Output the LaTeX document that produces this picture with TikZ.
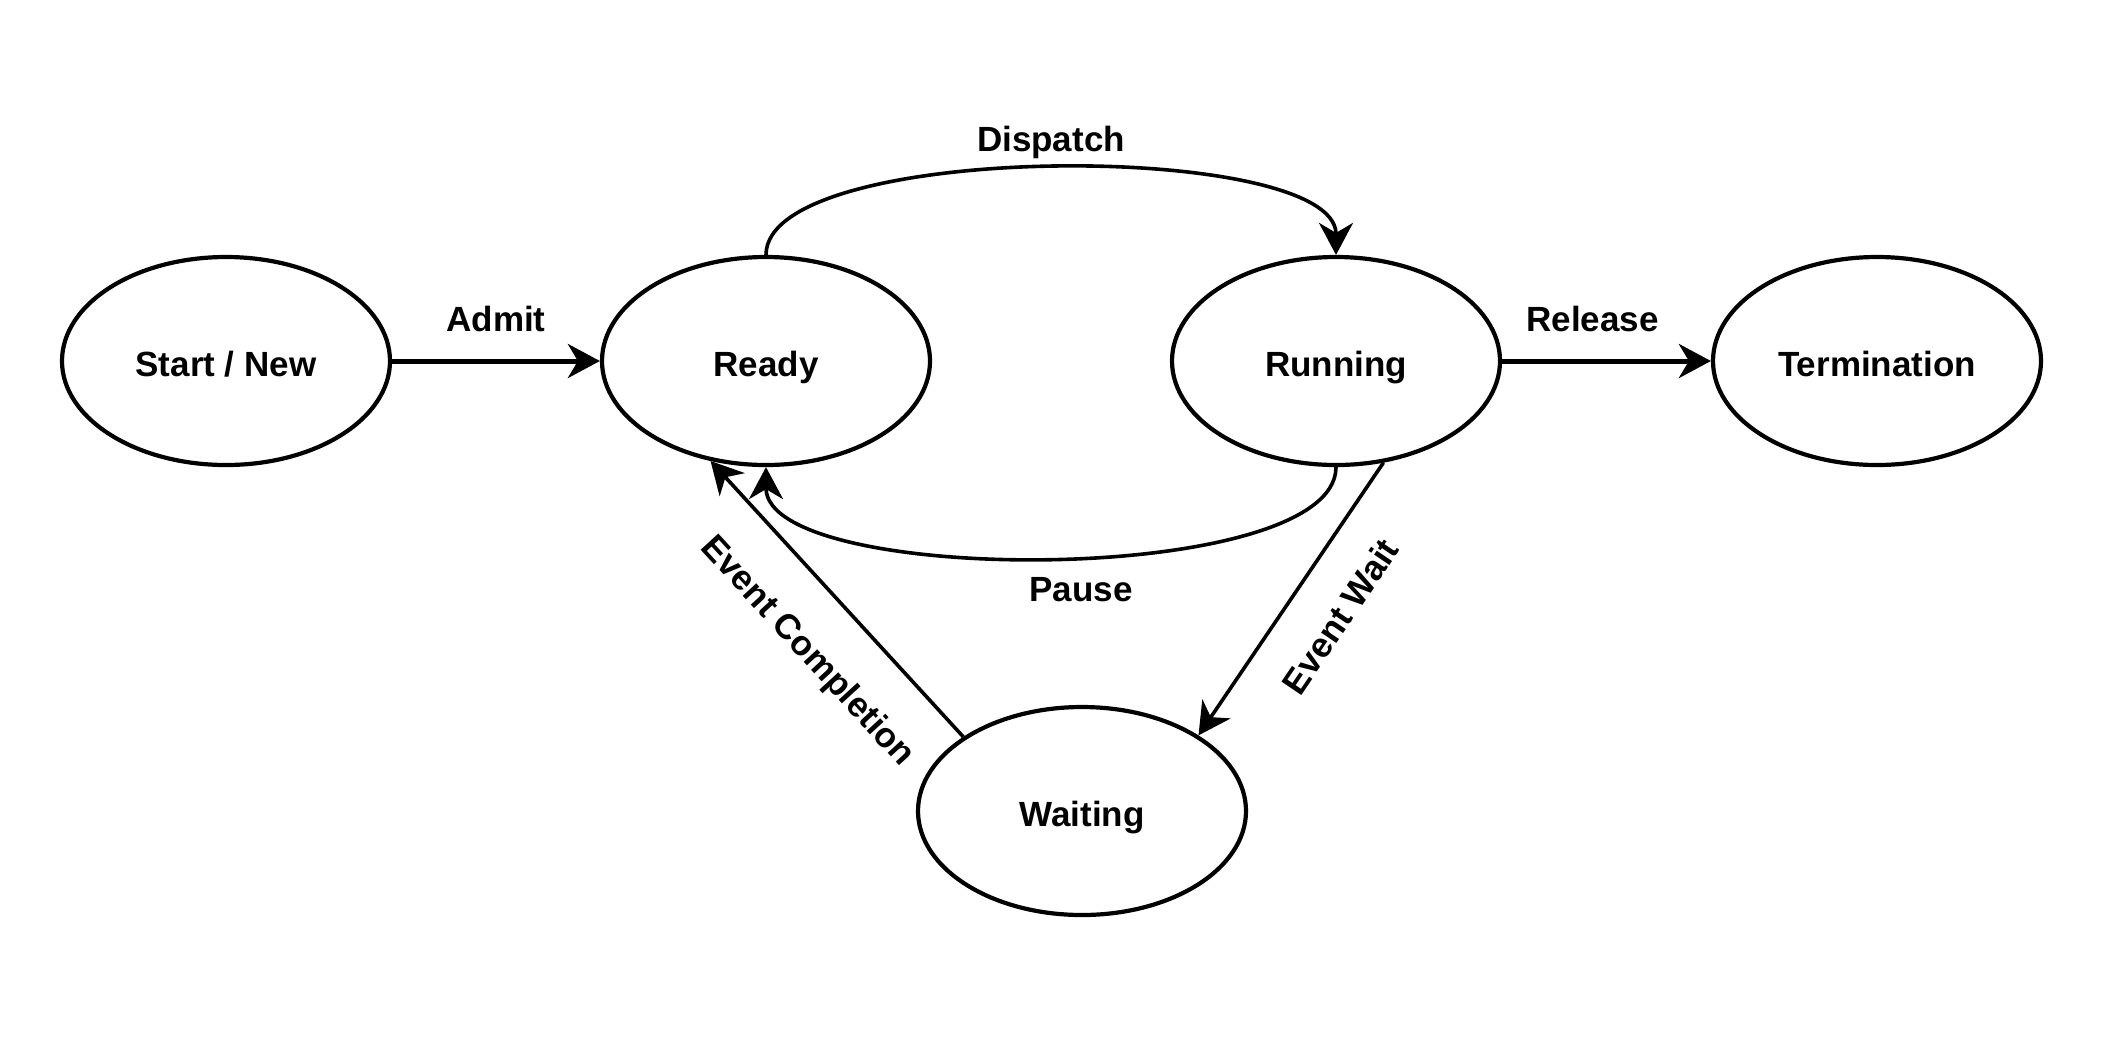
\documentclass[tikz,border=0pt]{standalone}
\usepackage{fontspec}
\setmainfont{Liberation Sans}
\usetikzlibrary{arrows.meta,shapes.geometric}
\begin{document}
\begin{tikzpicture}[x=0.5pt,y=-0.5pt,
  state/.style={draw, line width=2.1pt, ellipse, minimum width=164pt, minimum height=104pt, inner sep=0pt, text height=15.5pt, text depth=0pt, font=\fontsize{17.5}{21}\selectfont\bfseries},
  conn/.style={line width=1.8pt, -{Stealth[length=16pt,width=17pt,inset=5pt]}},
  thickconn/.style={conn, line width=2.5pt},
  lbl/.style={font=\fontsize{17.5}{21}\selectfont\bfseries, inner sep=0pt}]
\fill[white] (0,0) rectangle (2114,1040);
\useasboundingbox (0,0) rectangle (2114,1040);
\node[state] (start) at (226,361) {Start / New};
\node[state] (ready) at (766,361) {Ready};
\node[state] (running) at (1336,361) {Running};
\node[state] (term) at (1877,361) {Termination};
\node[state] (waiting) at (1082,811) {Waiting};
\draw[thickconn] (start) -- node[lbl, above=13.5pt] {Admit} (ready);
\draw[thickconn] (running) -- node[lbl, above=13.5pt, xshift=-7pt] {Release} (term);
\draw[conn] (ready.north) .. controls +(0,-115) and +(0,-115) .. node[lbl, above=3.8pt] {Dispatch} (running.north);
\draw[conn] (running.south) .. controls +(0,120) and +(0,120) .. node[lbl, below=9.5pt, xshift=15pt] {Pause} (ready.south);
\draw[conn] (waiting.148) -- node[lbl, sloped, pos=0.45, below=20pt] {Event Completion} (ready.241);
\draw[conn] (running.295) -- node[lbl, sloped, pos=0.46, below=18pt] {Event Wait} (waiting.33);
\end{tikzpicture}
\end{document}
